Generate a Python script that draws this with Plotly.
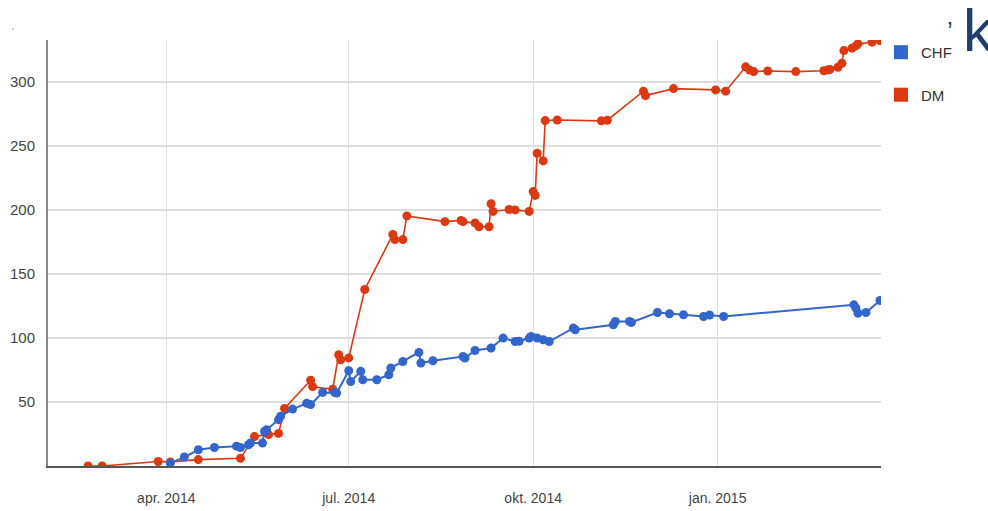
import plotly.graph_objects as go

# ---- data ----
dm_dates = ["2014-02-21", "2014-02-28", "2014-03-28", "2014-04-03", "2014-04-17", "2014-05-08",
            "2014-05-15", "2014-05-22", "2014-05-27", "2014-05-30", "2014-06-12", "2014-06-13",
            "2014-06-23", "2014-06-26", "2014-06-27", "2014-07-01", "2014-07-09", "2014-07-23",
            "2014-07-24", "2014-07-28", "2014-07-30", "2014-08-18", "2014-08-26", "2014-08-27",
            "2014-09-02", "2014-09-04", "2014-09-09", "2014-09-10", "2014-09-11", "2014-09-19",
            "2014-09-22", "2014-09-29", "2014-10-01", "2014-10-02", "2014-10-03", "2014-10-06",
            "2014-10-07", "2014-10-13", "2014-11-04", "2014-11-07", "2014-11-25", "2014-11-26",
            "2014-12-10", "2014-12-31", "2015-01-05", "2015-01-15", "2015-01-17", "2015-01-19",
            "2015-01-26", "2015-02-09", "2015-02-23", "2015-02-25", "2015-02-26", "2015-03-02",
            "2015-03-04", "2015-03-05", "2015-03-09", "2015-03-11", "2015-03-12", "2015-03-19",
            "2015-03-23"]
dm_values = [0, 0, 3.5, 3.2, 5, 6,
             23, 24.5, 25.5, 45, 67, 62,
             60, 87, 83, 84.5, 138, 181,
             177, 177, 195.5, 191, 192, 191,
             190, 187, 187, 205, 199, 200.5,
             200.2, 199, 214.5, 211.5, 244.5, 238.5,
             270, 270.5, 269.8, 270.3, 293, 289.5,
             295, 294, 293, 312, 309.5, 308.3,
             308.8, 308.3, 309, 309.6, 310, 311.7,
             314.8, 324.7, 326.6, 328.4, 330, 331.3,
             332.5]

chf_dates = ["2014-04-03", "2014-04-10", "2014-04-17", "2014-04-25", "2014-05-06", "2014-05-08",
             "2014-05-12", "2014-05-13", "2014-05-19", "2014-05-20", "2014-05-21", "2014-05-27",
             "2014-05-28", "2014-06-03", "2014-06-10", "2014-06-12", "2014-06-18", "2014-06-24",
             "2014-06-25", "2014-07-01", "2014-07-02", "2014-07-07", "2014-07-08", "2014-07-15",
             "2014-07-21", "2014-07-22", "2014-07-28", "2014-08-05", "2014-08-06", "2014-08-12",
             "2014-08-27", "2014-08-28", "2014-09-02", "2014-09-10", "2014-09-16", "2014-09-22",
             "2014-09-24", "2014-09-29", "2014-09-30", "2014-10-03", "2014-10-06", "2014-10-09",
             "2014-10-21", "2014-10-22", "2014-11-10", "2014-11-11", "2014-11-18", "2014-11-19",
             "2014-12-02", "2014-12-08", "2014-12-15", "2014-12-25", "2014-12-28", "2015-01-04",
             "2015-03-10", "2015-03-11", "2015-03-12", "2015-03-16", "2015-03-23"]
chf_values = [2.3, 7, 12.7, 14.5, 15.5, 14.5,
              16.6, 18, 18, 27, 28.4, 36.2,
              38.8, 44.5, 49, 48, 57.5, 57.5,
              57, 74.5, 66, 74, 67.4, 67.4,
              71.3, 76.6, 81.7, 88.8, 80.5, 82.3,
              85.6, 84.4, 90.3, 92.2, 100, 97.3,
              97.5, 100, 101.3, 100, 98.7, 97.3,
              107.8, 106.5, 110.4, 113, 113, 112.2,
              120, 119, 118.2, 116.9, 118, 116.9,
              126, 123.4, 119.5, 120, 129.4]

series_names = ["CHF", "DM"]
series_colors = ["#3366cc", "#dc3912"]

x_tick_vals = ["2014-04-01", "2014-07-01", "2014-10-01", "2015-01-01"]
x_tick_text = ["apr. 2014", "jul. 2014", "okt. 2014", "jan. 2015"]
y_tick_vals = [50, 100, 150, 200, 250, 300]

FONT = "Liberation Sans, Arial, sans-serif"

fig = go.Figure()

# data traces (DM drawn under CHF like the reference)
fig.add_trace(go.Scatter(x=dm_dates, y=dm_values, mode="lines+markers", name="DM",
                         line=dict(color=series_colors[1], width=1.6),
                         marker=dict(color=series_colors[1], size=9),
                         showlegend=False))
fig.add_trace(go.Scatter(x=chf_dates, y=chf_values, mode="lines+markers", name="CHF",
                         line=dict(color=series_colors[0], width=2),
                         marker=dict(color=series_colors[0], size=9),
                         showlegend=False))

# legend entries with square swatches
for nm, col in zip(series_names, series_colors):
    fig.add_trace(go.Scatter(x=[None], y=[None], mode="markers", name=nm,
                             legendgroup=nm,
                             marker=dict(symbol="square", size=14, color=col)))

fig.update_layout(
    width=988, height=511,
    margin=dict(l=48, r=107, t=40, b=45),
    paper_bgcolor="white", plot_bgcolor="white",
    font=dict(family=FONT, size=14, color="#444444"),
    showlegend=True,
    legend=dict(x=1.0, y=1.0095, xanchor="left", yanchor="top",
                font=dict(family=FONT, size=15, color="#333333"),
                tracegroupgap=20, itemwidth=30,
                bgcolor="rgba(0,0,0,0)"),
    xaxis=dict(type="date", range=["2014-02-01", "2015-03-23 12:00"],
               tickvals=x_tick_vals, ticktext=x_tick_text,
               showgrid=True, gridcolor="#e0e0e0", gridwidth=1,
               showline=True, linecolor="#555555", linewidth=2,
               ticks="", zeroline=False, automargin=False,
               ticklabelstandoff=18,
               tickfont=dict(family=FONT, size=14, color="#444444")),
    yaxis=dict(range=[0, 333], tickvals=y_tick_vals,
               showgrid=True, gridcolor="#dedede", gridwidth=2,
               showline=True, linecolor="#888888", linewidth=2,
               ticks="", zeroline=False, ticklabelstandoff=8, automargin=False,
               tickfont=dict(family=FONT, size=15, color="#444444")),
    annotations=[
        dict(text="k", xref="paper", yref="paper", x=1.096, y=0.938,
             xanchor="left", yanchor="bottom", showarrow=False,
             font=dict(family="Liberation Sans, Arial, sans-serif", size=60, color="#1f3f6e")),
        dict(text="’", xref="paper", yref="paper", x=1.0766, y=0.982,
             xanchor="left", yanchor="bottom", showarrow=False,
             font=dict(family="Liberation Sans, Arial, sans-serif", size=26, color="#1f3f6e")),
        dict(text="ˈ", xref="paper", yref="paper", x=-0.047, y=1.0,
             xanchor="left", yanchor="bottom", showarrow=False,
             font=dict(family="Liberation Sans, Arial, sans-serif", size=10, color="#2e5fa8")),
    ],
)

fig.write_html("out.html", config={"displayModeBar": False},
               post_script="document.body.style.margin='0';")
